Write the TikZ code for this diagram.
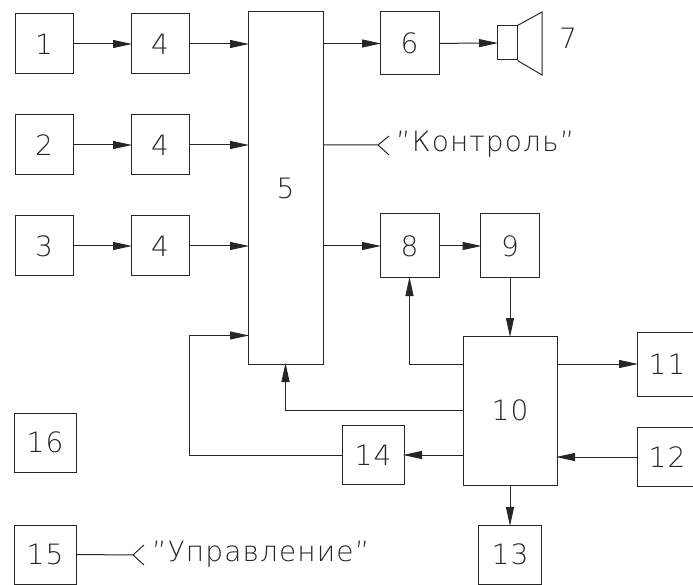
\documentclass[tikz,border=0pt]{standalone}
\usepackage{fontspec}
\setmainfont{DejaVu Sans}[UprightFont=* ExtraLight,LetterSpace=4]
\usetikzlibrary{arrows.meta}
\usetikzlibrary{positioning}
\tikzset{every node/.style={align=center, inner sep=0pt, text=black!85, font=\fontsize{28}{30}\selectfont},
         box/.style={draw=black!85, line width=1pt, minimum width=#1},
         box/.default=58pt,
         wire/.style={draw=black!85, line width=1pt},
         arrow/.style={wire, shorten >=-1.5pt, -{Triangle[length=19pt,width=8pt]}}}
\begin{document}
\begin{tikzpicture}[x=1pt,y=-1pt]
  \useasboundingbox (0,0) rectangle (693,585);

  \node [box, minimum height=60pt] (q1) at (44,44) {1};
  \node [box, minimum height=60pt] (q2) at (44,145) {2};
  \node [box, minimum height=60pt] (q3) at (44,246) {3};
  \node [box, minimum height=60pt] (q4a) at (160,44) {4};
  \node [box, minimum height=60pt] (q4b) at (160,145) {4};
  \node [box, minimum height=60pt] (q4c) at (160,246) {4};
  \node [box=75pt, minimum height=352pt] (q5) at (285.5,188) {5};
  \node [box=59pt, minimum height=63pt] (q6) at (409.5,43.5) {6};
  \node [box=20pt, minimum height=34pt] (q7) at (507,43) {};
  \node [box=59pt, minimum height=64pt] (q8) at (409.5,246) {8};
  \node [box=59pt, minimum height=64pt] (q9) at (510,246) {9};
  \node [box=94pt, minimum height=149pt] (q10) at (510,410.5) {10};
  \node [box=60pt, minimum height=64pt] (q11) at (667,364) {11};
  \node [box=60pt, minimum height=59pt] (q12) at (667,457) {12};
  \node [box=63pt, minimum height=59pt] (q13) at (510,554.5) {13};
  \node [box=62pt, minimum height=59pt] (q14) at (373,455) {14};
  \node [box=62pt, minimum height=59pt] (q15) at (45,554.5) {15};
  \node [box=62pt, minimum height=59pt] (q16) at (45,442.5) {16};

  % loudspeaker
  \coordinate (horntop) at (542,12);
  \coordinate (hornbot) at (542,75);
  \draw [wire] (q7.north east) -- (horntop) -- (hornbot) -- (q7.south east);
  \node (lbl7) at (568,38) {7};

  % outputs with a fork
  \node [right] (lblctl) at (396,144) {"Контроль"};
  \node [right] (lblupr) at (152,554) {"Управление"};
  \coordinate (forkctl) at (378,145);
  \coordinate (forkupr) at (133,555);
  \draw [wire] (q5.east |- q4b) -- (forkctl) -- ++(11,-9) (forkctl) -- ++(11,10);
  \draw [wire] (q15.east) -- (forkupr) -- ++(11,-10) (forkupr) -- ++(11,10);

  \draw [arrow] (q1) -- (q4a);
  \draw [arrow] (q2) -- (q4b);
  \draw [arrow] (q3) -- (q4c);
  \draw [arrow] (q4a) -- (q5.west |- q4a);
  \draw [arrow] (q4b) -- (q5.west |- q4b);
  \draw [arrow] (q4c) -- (q5.west |- q4c);
  \draw [arrow] (q5.east |- q6) -- (q6);
  \draw [arrow] (q6) -- (q7);
  \draw [arrow] (q5.east |- q8) -- (q8);
  \draw [arrow] (q8) -- (q9);
  \draw [arrow] (q9) -- (q10);
  \draw [arrow] (q10.east |- q11) -- (q11);
  \draw [arrow] (q12) -- (q10.east |- q12);
  \draw [arrow] (q10) -- (q13);
  \draw [arrow] (q10.west |- q14) -- (q14);
  \draw [arrow] (q10.west |- q11) -| (q8);
  \draw [arrow] (q10.west) -| (q5);
  \draw [arrow] (q14.west) -| (q4c.east |- q10.north) -- (q5.west |- q10.north);
\end{tikzpicture}
\end{document}
